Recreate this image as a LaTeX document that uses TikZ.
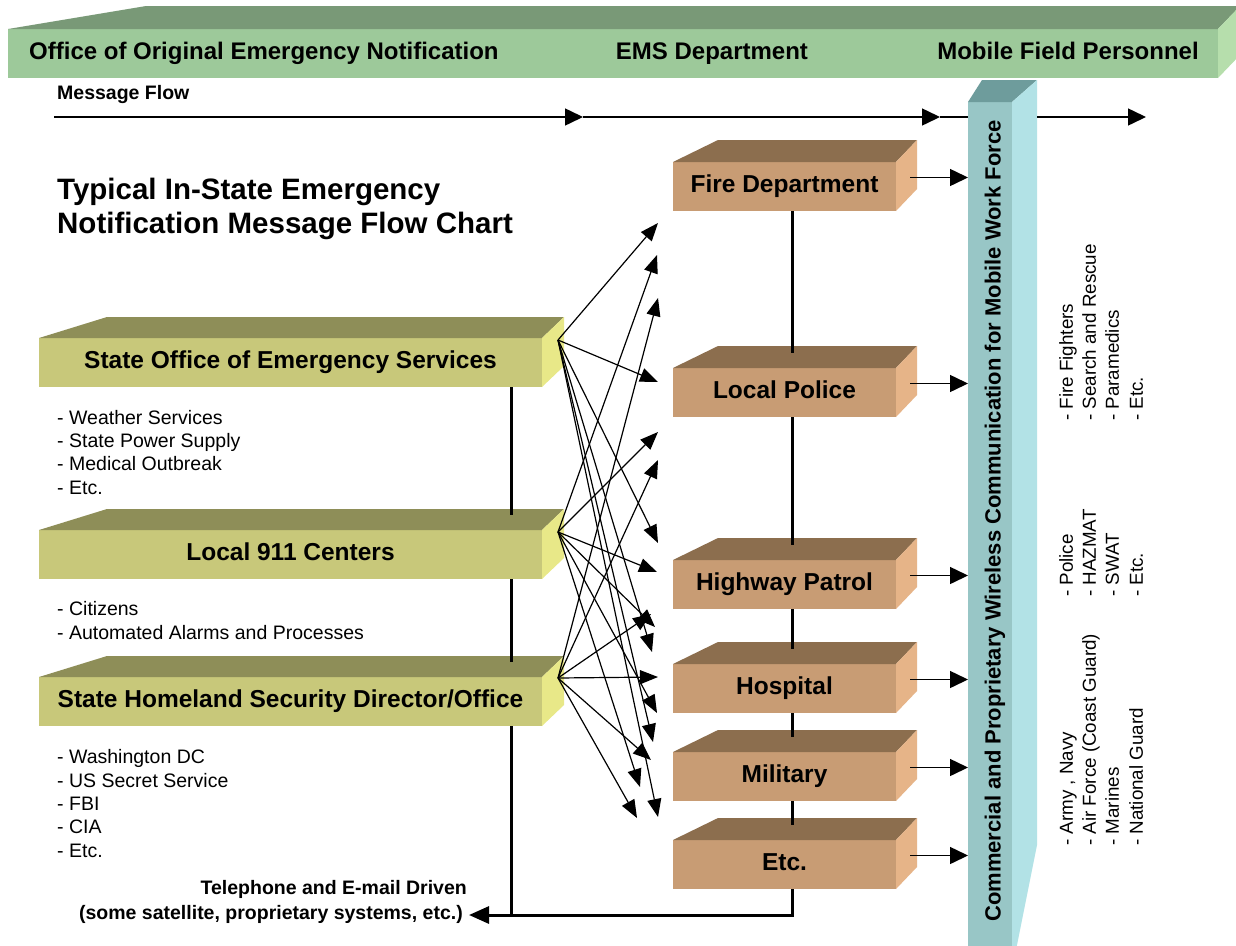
\documentclass[tikz,border=0pt]{standalone}
\usepackage{fontspec}
\setmainfont{Liberation Sans}
\usetikzlibrary{arrows.meta,calc}

% face colours: F = front, T = top, S = side
\definecolor{bnF}{RGB}{157,201,154}
\definecolor{bnT}{RGB}{121,153,119}
\definecolor{bnS}{RGB}{182,222,172}
\definecolor{olF}{RGB}{200,200,122}
\definecolor{olT}{RGB}{142,142,88}
\definecolor{olS}{RGB}{232,232,136}
\definecolor{brF}{RGB}{200,156,116}
\definecolor{brT}{RGB}{140,110,78}
\definecolor{brS}{RGB}{230,180,136}
\definecolor{cyF}{RGB}{152,198,198}
\definecolor{cyT}{RGB}{110,156,156}
\definecolor{cyS}{RGB}{178,226,230}

\tikzset{
  face/.style={inner sep=0pt, outer sep=0pt, anchor=north west},
  srcbox/.style={face, fill=olF, minimum width=503pt, minimum height=49pt,
    text height=17pt, text depth=5pt, font=\bfseries\fontsize{24.5}{28}\selectfont},
  emsbox/.style={face, fill=brF, minimum width=223pt, minimum height=49pt,
    text height=17pt, text depth=5pt, font=\bfseries\fontsize{24.5}{28}\selectfont},
  hdr/.style={font=\bfseries\fontsize{24}{28}\selectfont, inner sep=0pt,
    text height=17pt, text depth=5pt},
  item/.style={font=\fontsize{19.5}{23}\selectfont, inner sep=0pt, anchor=west,
    text height=14pt, text depth=4pt},
  ritem/.style={font=\fontsize{18.8}{23}\selectfont, inner sep=0pt, anchor=west,
    rotate=90, text height=13.5pt, text depth=4pt},
  note/.style={font=\bfseries\fontsize{19.5}{23}\selectfont, inner sep=0pt,
    text height=14pt, text depth=5pt},
  link/.style={line width=3pt},
  flow/.style={line width=1.5pt, -{Triangle[length=18pt,width=17pt]}},
  fan/.style={line width=1.2pt, -{Triangle[length=18pt,width=14pt]}},
}

% top and right faces of an extruded slab whose front face is node #1
% #2 = left depth shift, #3 = right depth shift, #4 = depth height
\newcommand\slabfaces[6]{%
  \fill[#5] (#1.north west) -- ++(#2,-#4) -- ($(#1.north east)+(#3,-#4)$) -- (#1.north east) -- cycle;
  \fill[#6] (#1.north east) -- ++(#3,-#4) -- ($(#1.south east)+(#3,-#4)$) -- (#1.south east) -- cycle;
}

\begin{document}
\begin{tikzpicture}[x=1pt,y=-1pt]
\useasboundingbox (0,0) rectangle (1236,945);
\clip (0,0) rectangle (1236,945);
\fill[white] (0,0) rectangle (1236,945);

% ---- header banner
\node[face, fill=bnF, minimum width=1210pt, minimum height=49pt] (banner) at (8,29) {};
\slabfaces{banner}{138}{22}{23}{bnT}{bnS}
\node[hdr, anchor=west] (h-orig) at (29,53) {Office of Original Emergency Notification};
\node[hdr] (h-ems) at (712,53) {EMS Department};
\node[hdr] (h-mob) at (1068,53) {Mobile Field Personnel};

% ---- wireless communication bar
\node[face, fill=cyF, minimum width=44pt, minimum height=860pt] (bar) at (968,102) {};
\fill[cyT] (bar.north west) -- ++(14,-22) -- ++(55,0) -- (bar.north east) -- cycle;
\fill[cyS] (bar.north east) -- ++(25,-22) -- (1037,845) -- (1016,950) -- (1012,950) -- cycle;
\node[rotate=90, font=\bfseries\fontsize{22}{24}\selectfont, inner sep=0pt] (bar-text) at (995,521)
  {Commercial and Proprietary Wireless Communication for Mobile Work Force};

% ---- message flow line
\node[note, anchor=west] (mf-label) at (57,95) {Message Flow};
\coordinate (mf0) at (54,117);
\coordinate (mf1) at (583,117);
\coordinate (mf2) at (940,117);
\coordinate (mf3) at (1037,117);
\coordinate (mf4) at (1146,117);
\draw[flow] (mf0) -- (mf1);
\draw[flow] (mf1) -- (mf2);
\draw[line width=1.5pt] (mf2) -- (mf2 -| bar.west);
\draw[flow] (mf3) -- (mf4);

% ---- title
\node[font=\bfseries\fontsize{29.5}{34}\selectfont, inner sep=0pt, anchor=west,
      text height=21pt, text depth=6pt] (title1) at (57,192) {Typical In-State Emergency};
\node[font=\bfseries\fontsize{29.5}{34}\selectfont, inner sep=0pt, anchor=west,
      text height=21pt, text depth=6pt] (title2) at (57,226) {Notification Message Flow Chart};

% ---- notification sources
\node[srcbox] (oes) at (39,338) {State Office of Emergency Services};
\node[srcbox] (c911) at (39,530) {Local 911 Centers};
\node[srcbox] (shs) at (39,677) {State Homeland Security Director/Office};
\slabfaces{oes}{68}{22}{21}{olT}{olS}
\slabfaces{c911}{68}{22}{21}{olT}{olS}
\slabfaces{shs}{68}{22}{21}{olT}{olS}

\foreach \t/\y [count=\i] in {Weather Services/419, State Power Supply/442, Medical Outbreak/465, Etc./489}
  \node[item] (oes-l\i) at (57,\y) {- \t};
\foreach \t/\y [count=\i] in {Citizens/610, Automated Alarms and Processes/634}
  \node[item] (c911-l\i) at (57,\y) {- \t};
\foreach \t/\y [count=\i] in {Washington DC/758, US Secret Service/782, FBI/805, CIA/828, Etc./852}
  \node[item] (shs-l\i) at (57,\y) {- \t};

% ---- EMS departments
\node[emsbox] (fire) at (673,162) {Fire Department};
\node[emsbox] (police) at (673,368) {Local Police};
\node[emsbox] (hwy) at (673,560) {Highway Patrol};
\node[emsbox] (hosp) at (673,664) {Hospital};
\node[emsbox] (mil) at (673,752) {Military};
\node[emsbox] (etc) at (673,840) {Etc.};
\foreach \n in {fire,police,hwy,hosp,mil,etc}
  \slabfaces{\n}{45}{21}{22}{brT}{brS};

% ---- vertical links
\draw[link] ([xshift=7.5pt]fire.south) -- ([xshift=7.5pt,yshift=15pt]police.north);
\draw[link] ([xshift=7.5pt]police.south) -- ([xshift=7.5pt,yshift=15pt]hwy.north);
\draw[link] ([xshift=7.5pt]hwy.south) -- ([xshift=7.5pt,yshift=15pt]hosp.north);
\draw[link] ([xshift=7.5pt]hosp.south) -- ([xshift=7.5pt,yshift=15pt]mil.north);
\draw[link] ([xshift=7.5pt]mil.south) -- ([xshift=7.5pt,yshift=15pt]etc.north);
\draw[link] ([xshift=220.5pt]oes.south) -- ([xshift=220.5pt,yshift=15pt]c911.north);
\draw[link] ([xshift=220.5pt]c911.south) -- ([xshift=220.5pt,yshift=15pt]shs.north);

% ---- return path
\coordinate (ret-tip) at (469,915);
\coordinate (shs-out) at ([xshift=220.5pt]shs.south);
\draw[link, -{Triangle[length=20pt,width=17pt]}] ([xshift=7.5pt]etc.south) |- (ret-tip);
\draw[link] (shs-out) -- (shs-out |- ret-tip);
\node[note, anchor=east] (ret-l1) at (467,890) {Telephone and E-mail Driven};
\node[note, anchor=east] (ret-l2) at (463,915) {(some satellite, proprietary systems, etc.)};

% ---- departments to the wireless bar
\foreach \n in {fire,police,hwy,hosp,mil,etc} {
  \coordinate (\n-out) at ($(\n.east)+(14,-9)$);
  \draw[flow] (\n-out) -- (\n-out -| bar.west);
}

% ---- fan of notifications
\coordinate (s1) at ($(oes.north east)+(16,2)$);
\coordinate (s2) at ($(c911.north east)+(16,2)$);
\coordinate (s3) at ($(shs.north east)+(16,1)$);
\foreach \s/\x/\y [count=\k] in {
  s1/658/223, s1/658/382, s1/658/543, s1/652/652, s1/653/742, s1/658/817,
  s2/657/255, s2/658/432, s2/657/572, s2/655/627, s2/657/713, s2/640/787,
  s3/658/298, s3/658/460, s3/651/614, s3/658/677, s3/651/760, s3/637/818} {
  \coordinate (tip\k) at (\x,\y);
  \draw[fan] (\s) -- (tip\k);
}

% ---- field personnel lists
\foreach \t/\x [count=\i] in {Fire Fighters/1068, Search and Rescue/1091, Paramedics/1114, Etc./1138}
  \node[ritem] (fire-p\i) at (\x,421) {- \t};
\foreach \t/\x [count=\i] in {Police/1068, HAZMAT/1091, SWAT/1114, Etc./1138}
  \node[ritem] (police-p\i) at (\x,597) {- \t};
\foreach \t/\x [count=\i] in {{Army , Navy}/1068, {Air Force (Coast Guard)}/1091, Marines/1114, National Guard/1138}
  \node[ritem] (mil-p\i) at (\x,846) {- \t};

\end{tikzpicture}
\end{document}
